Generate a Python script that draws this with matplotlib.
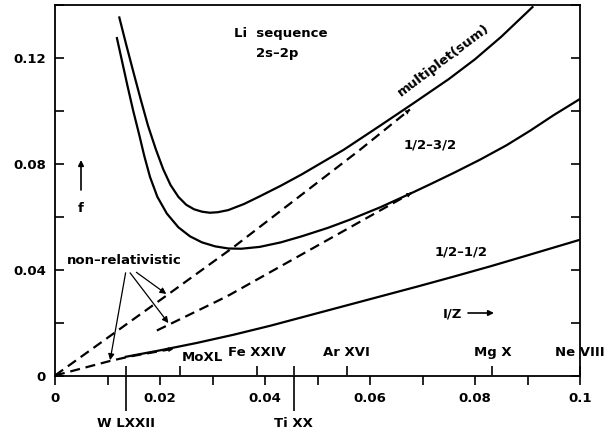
import matplotlib
matplotlib.use("Agg")
import matplotlib.pyplot as plt
from matplotlib.ticker import MultipleLocator, FixedLocator

plt.rcParams['font.family'] = ['DejaVu Sans']
plt.rcParams['font.weight'] = 'bold'
FS = 9.5

# ---- data ----
mult_x = [0.0122, 0.0135, 0.0149, 0.0163, 0.0177, 0.0192, 0.0206, 0.0220, 0.0235,
          0.0250, 0.0265, 0.0280, 0.0295, 0.0310, 0.0330, 0.0360, 0.0390, 0.0430,
          0.0470, 0.0550, 0.0620, 0.0680, 0.0750, 0.0800, 0.0850, 0.0911]
mult_y = [0.1357, 0.1255, 0.1149, 0.1045, 0.0945, 0.0855, 0.0780, 0.0720, 0.0675,
          0.0645, 0.0628, 0.0619, 0.0615, 0.0617, 0.0625, 0.0648, 0.0677, 0.0717,
          0.0760, 0.0853, 0.0945, 0.1025, 0.1120, 0.1195, 0.1280, 0.1395]

j32_x = [0.01175, 0.0128, 0.0138, 0.0149, 0.0160, 0.0170, 0.0181, 0.0195, 0.0213,
         0.0235, 0.0257, 0.0280, 0.0305, 0.0330, 0.0355, 0.0390, 0.0430, 0.0470,
         0.0520, 0.0562, 0.0620, 0.0683, 0.0714, 0.0760, 0.0810, 0.0860, 0.0905,
         0.0950, 0.1000]
j32_y = [0.1279, 0.1185, 0.1095, 0.1000, 0.0913, 0.0830, 0.0750, 0.0675, 0.0612,
         0.0560, 0.0526, 0.0503, 0.0488, 0.0480, 0.0479, 0.0486, 0.0503, 0.0526,
         0.0558, 0.0589, 0.0636, 0.0693, 0.0722, 0.0766, 0.0816, 0.0870, 0.0925,
         0.0984, 0.1045]

j12_x = [0.0133, 0.0200, 0.0270, 0.0340, 0.0410, 0.0480, 0.0550, 0.0620, 0.0690,
         0.0760, 0.0830, 0.0900, 0.1000]
j12_y = [0.0070, 0.0095, 0.0123, 0.0154, 0.0188, 0.0225, 0.0262, 0.0299, 0.0336,
         0.0374, 0.0413, 0.0454, 0.0513]

nr_mult_x = [0.0, 0.0213, 0.0340, 0.0581, 0.0676]
nr_mult_y = [0.0, 0.0303, 0.0485, 0.0853, 0.1005]
nr_32_x = [0.0194, 0.0308, 0.0333, 0.0679]
nr_32_y = [0.0170, 0.0280, 0.0305, 0.0690]
nr_12_x = [0.0, 0.0105, 0.0143, 0.0225]
nr_12_y = [0.0, 0.0055, 0.0072, 0.0101]

x_ticks = [0, 0.02, 0.04, 0.06, 0.08, 0.1]
x_tick_labels = ["0", "0.02", "0.04", "0.06", "0.08", "0.1"]
y_ticks = [0, 0.04, 0.08, 0.12]
y_tick_labels = ["0", "0.04", "0.08", "0.12"]

ion_up_x = [0.0238, 0.0385, 0.0556, 0.0833, 0.1]
ion_up_labels = ["MoXL", "Fe XXIV", "Ar XVI", "Mg X", "Ne VIII"]
ion_down_x = [0.0135, 0.0455]
ion_down_labels = ["W LXXII", "Ti XX"]

fig = plt.figure(figsize=(6.08, 4.36), dpi=100)
ax = fig.add_axes([55/608, 1-375.5/436, (580-55)/608, (375.5-5)/436])
ax.set_xlim(0, 0.1)
ax.set_ylim(0, 0.14)
for s in ax.spines.values():
    s.set_linewidth(1.3)

lw = 1.6
for xs, ys in [(mult_x, mult_y), (j32_x, j32_y), (j12_x, j12_y)]:
    ax.plot(xs, ys, color='black', lw=lw, solid_capstyle='butt', solid_joinstyle='round')
dash = (0, (4.5, 2.6))
for xs, ys in [(nr_mult_x, nr_mult_y), (nr_32_x, nr_32_y), (nr_12_x, nr_12_y)]:
    ax.plot(xs, ys, color='black', lw=1.6, ls=dash, dash_capstyle='butt')
    ax.annotate('', xy=(xs[-1], ys[-1]), xytext=(xs[-2], ys[-2]),
                arrowprops=dict(arrowstyle='-|>', color='black', lw=0, mutation_scale=9,
                                shrinkA=0, shrinkB=0))

# axis ticks
ax.xaxis.set_major_locator(FixedLocator(x_ticks))
ax.set_xticklabels(x_tick_labels, fontsize=FS, fontweight='bold')
ax.xaxis.set_minor_locator(MultipleLocator(0.01))
ax.tick_params(axis='x', which='both', direction='out', length=6.5, width=1.2, pad=5.5)
ax.yaxis.set_major_locator(FixedLocator(y_ticks))
ax.set_yticklabels(y_tick_labels, fontsize=FS, fontweight='bold')
ax.yaxis.set_minor_locator(MultipleLocator(0.02))
ax.tick_params(axis='y', which='both', direction='in', length=6.5, width=1.2,
               left=True, right=True, pad=6.5)

# ion ticks pointing up (inside)
sec_up = ax.secondary_xaxis(0)
sec_up.set_xticks(ion_up_x + ion_down_x)
sec_up.set_xticklabels([])
sec_up.tick_params(direction='in', length=7, width=1.2)
for s in sec_up.spines.values():
    s.set_visible(False)
for xv, lab in zip(ion_up_x, ion_up_labels):
    dx = 16 if lab == "MoXL" else 0
    dy = 8 if lab == "MoXL" else 12
    ax.annotate(lab, xy=(xv, 0), xytext=(dx, dy), textcoords='offset points',
                ha='center', va='bottom', fontsize=FS, fontweight='bold',
                annotation_clip=False)

sec_dn = ax.secondary_xaxis(0)
sec_dn.set_xticks(ion_down_x)
sec_dn.set_xticklabels(ion_down_labels, fontsize=FS, fontweight='bold')
sec_dn.tick_params(direction='out', length=25, width=1.2, pad=5)
for s in sec_dn.spines.values():
    s.set_visible(False)

# text labels
ax.text(281/608, 1-33/436, "Li  sequence", transform=fig.transFigure, ha='center', va='center',
        fontsize=FS, fontweight='bold')
ax.text(277/608, 1-53/436, "2s\u20132p", transform=fig.transFigure, ha='center', va='center',
        fontsize=FS, fontweight='bold')
ax.text(443/608, 1-60/436, "multiplet(sum)", transform=fig.transFigure, ha='center', va='center',
        fontsize=FS, fontweight='bold', rotation=37)
ax.text(430/608, 1-145/436, "1/2\u20133/2", transform=fig.transFigure, ha='center', va='center',
        fontsize=FS, fontweight='bold')
ax.text(461/608, 1-252/436, "1/2\u20131/2", transform=fig.transFigure, ha='center', va='center',
        fontsize=FS, fontweight='bold')
ax.text(452/608, 1-314/436, "I/Z", transform=fig.transFigure, ha='center', va='center',
        fontsize=FS, fontweight='bold')
ax.annotate('', xy=(494/608, 1-313/436), xytext=(468/608, 1-313/436), xycoords='figure fraction',
            arrowprops=dict(arrowstyle='-|>', color='black', lw=1.2, mutation_scale=8, shrinkA=0, shrinkB=0))
ax.text(81/608, 1-209/436, "f", transform=fig.transFigure, ha='center', va='center',
        fontsize=FS, fontweight='bold')
ax.annotate('', xy=(81/608, 1-160/436), xytext=(81/608, 1-190/436), xycoords='figure fraction',
            arrowprops=dict(arrowstyle='-|>', color='black', lw=1.2, mutation_scale=8, shrinkA=0, shrinkB=0))

# non-relativistic annotation
ax.text(124/608, 1-261/436, "non\u2013relativistic", transform=fig.transFigure, ha='center', va='center',
        fontsize=FS, fontweight='bold')
arrow_kw = dict(arrowstyle='-|>', color='black', lw=0.9, mutation_scale=9, shrinkA=0, shrinkB=0)
ax.annotate('', xy=(0.0105, 0.0058), xytext=(0.01345, 0.0388), arrowprops=arrow_kw)
ax.annotate('', xy=(0.0212, 0.0308), xytext=(0.0155, 0.0390), arrowprops=arrow_kw)
ax.annotate('', xy=(0.0216, 0.0198), xytext=(0.0143, 0.0388), arrowprops=arrow_kw)

fig.savefig("out.png", dpi=100)
